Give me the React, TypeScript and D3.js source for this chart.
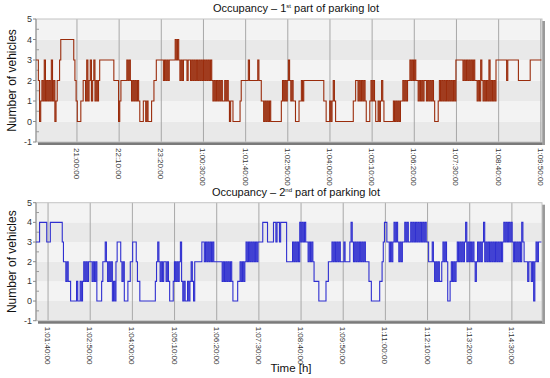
import React, { useRef, useEffect } from "react";
import * as d3 from "d3";

// step samples, one digit per sample, evenly spread over the panel span
const part1Chunks: string[] = [
  "3320121312121312012", "23", "44444444444", "32", "1000", "112",
  "21312312312123", "33333333333", "2222", "01", "22222", "323", "21212121",
  "000", "1101", "000", "1122", "333333", "232323", "3333", "434",
  "3232333233", "2323232323232323232", "12121212112121", "01", "10000001",
  "22222232222222322", "11", "0101010", "00000000", "121212", "3", "2121",
  "10001", "121", "22222222222222222", "11000", "101210", "00000000000000",
  "112", "2121212", "1000121210010121", "00000000", "1010101", "1212122",
  "323232", "21212122121212", "10001", "21212121212121", "333333",
  "23232323232", "21213212121312121", "3333333332333333333", "2222222222",
  "3333333333",
];

const part2Chunks: string[] = [
  "333", "444444", "333", "4444444444", "322", "121", "10", "0000100", "101",
  "2121222", "1212", "0000", "122", "32", "1212", "010", "2333", "212", "000",
  "1122", "333", "211", "0000000000000", "123", "21212212", "10001", "212123",
  "10100101210", "222222", "33232323232", "222222", "12121212", "100001",
  "12121", "232323232323", "333", "4444", "33333", "44344344444", "2222",
  "2323232", "434343", "323232", "111", "10000001", "122", "23232323",
  "22232222", "343", "23232323232", "221", "10000000", "1123", "4433",
  "232343432323", "34343", "34343434343434", "3322", "232121211232320",
  "012121", "23232323423232321", "23232342", "32323232323232", "34343434",
  "32323232432", "22122120", "2323", "33",
];

// panel time spans in minutes (day 0 midnight = 0)
const part1Span: [number, number] = [1192, 2032];
const part2Span: [number, number] = [1520, 2360];

const part1Ticks: number[] = [1260, 1330, 1400, 1470, 1540, 1610, 1680, 1750, 1820, 1890, 1960, 2030];
const part1TickLabels: string[] = [
  "21:00:00", "22:10:00", "23:20:00", "1:00:30:00", "1:01:40:00", "1:02:50:00",
  "1:04:00:00", "1:05:10:00", "1:06:20:00", "1:07:30:00", "1:08:40:00", "1:09:50:00",
];
const part2Ticks: number[] = [1540, 1610, 1680, 1750, 1820, 1890, 1960, 2030, 2100, 2170, 2240, 2310];
const part2TickLabels: string[] = [
  "1:01:40:00", "1:02:50:00", "1:04:00:00", "1:05:10:00", "1:06:20:00", "1:07:30:00",
  "1:08:40:00", "1:09:50:00", "1:11:00:00", "1:12:10:00", "1:13:20:00", "1:14:30:00",
];
const yTicks: number[] = [-1, 0, 1, 2, 3, 4, 5];

export default function App() {
  const svgRef = useRef<SVGSVGElement | null>(null);

  useEffect(() => {
    const svg = d3.select(svgRef.current);
    svg.selectAll("*").remove();

    const font = "'Liberation Sans', Arial, sans-serif";

    const drawPanel = (
      top: number,
      bottom: number,
      span: [number, number],
      chunks: string[],
      ticks: number[],
      labels: string[],
      color: string,
      title: string,
      sup: string
    ) => {
      const left = 36;
      const right = 542;
      const x = d3.scaleLinear().domain(span).range([left, right]);
      const y = d3.scaleLinear().domain([-1, 5]).range([bottom, top]);
      const g = svg.append("g");

      // shadow
      g.append("rect")
        .attr("x", left + 2)
        .attr("y", bottom)
        .attr("width", right - left + 1)
        .attr("height", 3)
        .attr("fill", "#7a7a7a");
      g.append("rect")
        .attr("x", right)
        .attr("y", top + 2)
        .attr("width", 3)
        .attr("height", bottom - top + 1)
        .attr("fill", "#9a9a9a");

      // alternating bands
      for (let v = -1; v < 5; v++) {
        g.append("rect")
          .attr("x", left)
          .attr("y", y(v + 1))
          .attr("width", right - left)
          .attr("height", y(v) - y(v + 1))
          .attr("fill", (v + 1) % 2 === 0 ? "#e9e9e9" : "#f3f3f3");
      }

      // vertical grid
      g.selectAll(".vg")
        .data(ticks)
        .enter()
        .append("line")
        .attr("x1", (d) => x(d))
        .attr("x2", (d) => x(d))
        .attr("y1", top)
        .attr("y2", bottom)
        .attr("stroke", "#a8a8a8")
        .attr("stroke-width", 1);

      g.append("rect")
        .attr("x", left)
        .attr("y", top)
        .attr("width", right - left)
        .attr("height", bottom - top)
        .attr("fill", "none")
        .attr("stroke", "#c4c4c4");

      // y axis
      g.append("line")
        .attr("x1", left)
        .attr("x2", left)
        .attr("y1", top)
        .attr("y2", bottom)
        .attr("stroke", "#8a8a8a");
      g.selectAll(".yt")
        .data(yTicks)
        .enter()
        .append("line")
        .attr("x1", left - 3)
        .attr("x2", left)
        .attr("y1", (d) => y(d))
        .attr("y2", (d) => y(d))
        .attr("stroke", "#8a8a8a");
      g.selectAll(".ym")
        .data(yTicks.slice(0, -1).map((d) => d + 0.5))
        .enter()
        .append("line")
        .attr("x1", left)
        .attr("x2", left + 3)
        .attr("y1", (d) => y(d))
        .attr("y2", (d) => y(d))
        .attr("stroke", "#9a9a9a");
      g.selectAll(".yl")
        .data(yTicks)
        .enter()
        .append("text")
        .attr("x", left - 4)
        .attr("y", (d) => y(d) + 3)
        .attr("text-anchor", "end")
        .attr("font-family", font)
        .attr("font-size", 9)
        .attr("fill", "#333")
        .text((d) => d);

      // x tick labels, rotated
      g.selectAll(".xl")
        .data(ticks)
        .enter()
        .append("text")
        .attr("transform", (d) => `translate(${x(d) - 3},${bottom + 6}) rotate(90)`)
        .attr("font-family", font)
        .attr("font-size", 8)
        .attr("fill", "#333")
        .text((d, i) => labels[i]);

      // series
      const digits = chunks.join("");
      const step = (span[1] - span[0]) / digits.length;
      const pts: [number, number][] = digits.split("").map((c, i) => [span[0] + i * step, +c]);
      pts.push([span[1] - step * 0.5, +digits[digits.length - 1]]);
      const line = d3
        .line<[number, number]>()
        .x((d) => x(d[0]))
        .y((d) => y(d[1]))
        .curve(d3.curveStepAfter);
      g.append("path")
        .datum(pts)
        .attr("fill", "none")
        .attr("stroke", color)
        .attr("stroke-width", 1.1)
        .attr("d", line);

      // title
      const t = svg
        .append("text")
        .attr("x", 296)
        .attr("y", top - 7)
        .attr("text-anchor", "middle")
        .attr("font-family", font)
        .attr("font-size", 11)
        .attr("fill", "#111");
      t.append("tspan").text("Occupancy \u2013 " + title.charAt(0));
      t.append("tspan").attr("dy", -4).attr("font-size", 6).text(sup);
      t.append("tspan").attr("dy", 4).text(title.slice(1));

      // y label
      svg
        .append("text")
        .attr("transform", `translate(16,${(top + bottom) / 2}) rotate(-90)`)
        .attr("text-anchor", "middle")
        .attr("font-family", font)
        .attr("font-size", 12)
        .attr("fill", "#111")
        .text("Number of vehicles");
    };

    drawPanel(19, 142, part1Span, part1Chunks, part1Ticks, part1TickLabels, "#9a2c0c", "1 part of parking lot", "st");
    drawPanel(202.7, 320.7, part2Span, part2Chunks, part2Ticks, part2TickLabels, "#2f2fd0", "2 part of parking lot", "nd");

    svg
      .append("text")
      .attr("x", 291)
      .attr("y", 372)
      .attr("text-anchor", "middle")
      .attr("font-family", font)
      .attr("font-size", 11.5)
      .attr("fill", "#111")
      .text("Time [h]");
  }, []);

  return (
    <svg
      ref={svgRef}
      width={550}
      height={378}
      style={{ position: "absolute", left: 0, top: 0, background: "#fff" }}
    />
  );
}
